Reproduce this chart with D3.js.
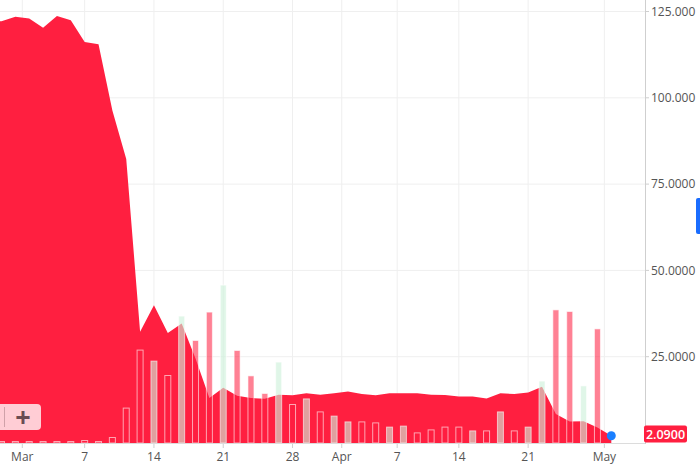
<!DOCTYPE html>
<html><head><meta charset="utf-8">
<script src="https://cdn.jsdelivr.net/npm/d3@7"></script>
<style>
html,body{margin:0;padding:0;background:#fff;overflow:hidden;}
svg{display:block;font-family:"Open Sans",sans-serif;}
</style></head>
<body>
<svg id="chart" width="700" height="468"></svg>
<script>
// ---- data (index = trading session, first visible session = 0) ----
const priceFirstIndex = -1;
const prices = [122.0,
  122.2,123.5,123.0,120.3,123.7,122.5,116.2,115.5,96.3,82.3,
  32.2,39.9,31.9,34.6,24.5,13.0,16.0,13.7,13.0,12.8,
  14.0,13.8,14.4,14.0,14.4,14.9,14.2,13.8,14.4,14.4,
  14.4,14.0,13.9,13.5,13.5,12.9,14.4,14.2,14.6,16.3,
  8.4,6.2,6.3,4.5,2.09];
const volumes = [1.0,1.0,1.0,1.0,1.0,1.0,1.5,1.0,3.0,17.7,
  46.7,41.2,34.0,63.7,51.5,65.7,79.2,46.5,33.8,25.0,
  40.7,19.5,22.3,15.8,13.7,10.8,10.8,10.3,8.2,8.7,
  5.3,6.8,8.2,8.2,6.3,6.3,15.8,6.3,8.2,31.2,
  66.8,66.0,28.8,57.3];
const volumeDir = ["d","d","d","d","d","d","d","d","d","d",
  "d","u","d","u","d","d","u","d","d","d",
  "u","d","u","d","u","u","d","d","u","u",
  "d","d","d","d","u","d","u","d","u","u",
  "d","d","u","d"];
const xTickLabels = ["Mar","7","14","21","28","Apr","7","14","21","May"];
const xTickSessions = [1.5,6,11,16,21,24.55,28.55,33,38,43.5];
const yTickValues = [125,100,75,50,25];
const yTickLabels = ["125.000","100.000","75.0000","50.0000","25.0000"];
const lastPriceLabel = "2.0900";

// ---- layout ----
const plotRight = 645, plotBottom = 443, plotTop = 11.5;
const svg = d3.select("#chart");
const RED = "#ff1f40";

const x = d3.scaleLinear().domain([0, 44]).range([1.5, 611.3]);
const y = d3.scaleLinear().domain([0, 125]).range([plotBottom, plotTop]);
const yVol = d3.scaleLinear().domain([0, 100]).range([plotBottom, plotBottom - 200]);
const barW = 7;

svg.append("defs").append("clipPath").attr("id","plotClip")
  .append("rect").attr("x",0).attr("y",0).attr("width",plotRight).attr("height",plotBottom);

// grid
const grid = svg.append("g");
grid.selectAll("line.h").data(yTickValues).join("line")
  .attr("x1",0).attr("x2",plotRight).attr("y1",d=>y(d)).attr("y2",d=>y(d))
  .attr("stroke","#efefef").attr("stroke-width",1);
grid.selectAll("line.v").data(xTickSessions).join("line")
  .attr("x1",d=>x(d)).attr("x2",d=>x(d)).attr("y1",0).attr("y2",plotBottom)
  .attr("stroke","#efefef").attr("stroke-width",1);

const plot = svg.append("g").attr("clip-path","url(#plotClip)");

// area
const priceData = prices.map((p,i)=>({i: i + priceFirstIndex, p}));
plot.append("path").datum(priceData)
  .attr("d", d3.area().x(d=>x(d.i)).y0(y(0)).y1(d=>y(d.p)))
  .attr("fill", RED);

// volume bars
plot.selectAll("rect.vol").data(volumes).join("rect")
  .attr("x",(d,i)=>x(i)-barW/2+0.5).attr("width",barW-1)
  .attr("y",d=>yVol(d)+0.5).attr("height",d=>Math.max(0,yVol(0)-yVol(d)-0.5))
  .attr("fill",(d,i)=>volumeDir[i]==="u" ? "rgba(205,240,218,0.62)" : "rgba(255,31,64,0.56)")
  .attr("stroke","rgba(255,255,255,0.6)").attr("stroke-width",1);

// baseline and right axis line
svg.append("line").attr("x1",0).attr("x2",plotRight).attr("y1",plotBottom+0.5).attr("y2",plotBottom+0.5)
  .attr("stroke","#dcdcdc");
svg.append("line").attr("x1",plotRight+0.5).attr("x2",plotRight+0.5).attr("y1",0).attr("y2",plotBottom+1)
  .attr("stroke","#cfcfcf");

// x ticks
const xt = svg.append("g");
xt.selectAll("line").data(xTickSessions).join("line")
  .attr("x1",d=>x(d)).attr("x2",d=>x(d)).attr("y1",plotBottom+1).attr("y2",plotBottom+5)
  .attr("stroke","#cfcfcf");
xt.selectAll("text").data(xTickSessions).join("text")
  .attr("x",d=>x(d)).attr("y",461).attr("text-anchor","middle")
  .attr("font-size",12).attr("fill","#555")
  .text((d,i)=>xTickLabels[i]);

// y ticks (right)
const yt = svg.append("g");
yt.selectAll("line").data(yTickValues).join("line")
  .attr("x1",plotRight).attr("x2",plotRight+4).attr("y1",d=>y(d)).attr("y2",d=>y(d))
  .attr("stroke","#cfcfcf");
yt.selectAll("text").data(yTickValues).join("text")
  .attr("x",651).attr("y",d=>y(d)).attr("dy","0.35em")
  .attr("font-size",12).attr("fill","#555")
  .text((d,i)=>yTickLabels[i]);

// last point dot
const lastI = priceData[priceData.length-1];
svg.append("circle").attr("cx",x(lastI.i)).attr("cy",y(lastI.p)).attr("r",4.5).attr("fill","#1a7fff");

// last price label
svg.append("rect").attr("x",644).attr("y",425.5).attr("width",43).attr("height",17).attr("rx",2)
  .attr("fill",RED);
svg.append("text").attr("x",665.5).attr("y",434).attr("dy","0.36em").attr("text-anchor","middle")
  .attr("font-size",12.5).attr("font-weight",600).attr("fill","#fff").text(lastPriceLabel);

// zoom button
const btn = svg.append("g");
btn.append("rect").attr("x",-8).attr("y",404).attr("width",49).attr("height",26).attr("rx",4)
  .attr("fill","rgba(255,255,255,0.78)");
btn.append("line").attr("x1",4.5).attr("x2",4.5).attr("y1",407).attr("y2",427)
  .attr("stroke","rgba(120,80,90,0.35)");
btn.append("text").attr("x",23).attr("y",417.5).attr("dy","0.36em").attr("text-anchor","middle")
  .attr("font-size",27).attr("font-weight",700).attr("fill","#6a4c53").text("+");

// blue side tab
svg.append("rect").attr("x",696).attr("y",198).attr("width",10).attr("height",36).attr("rx",2)
  .attr("fill","#1a6dff");
</script>
</body></html>
